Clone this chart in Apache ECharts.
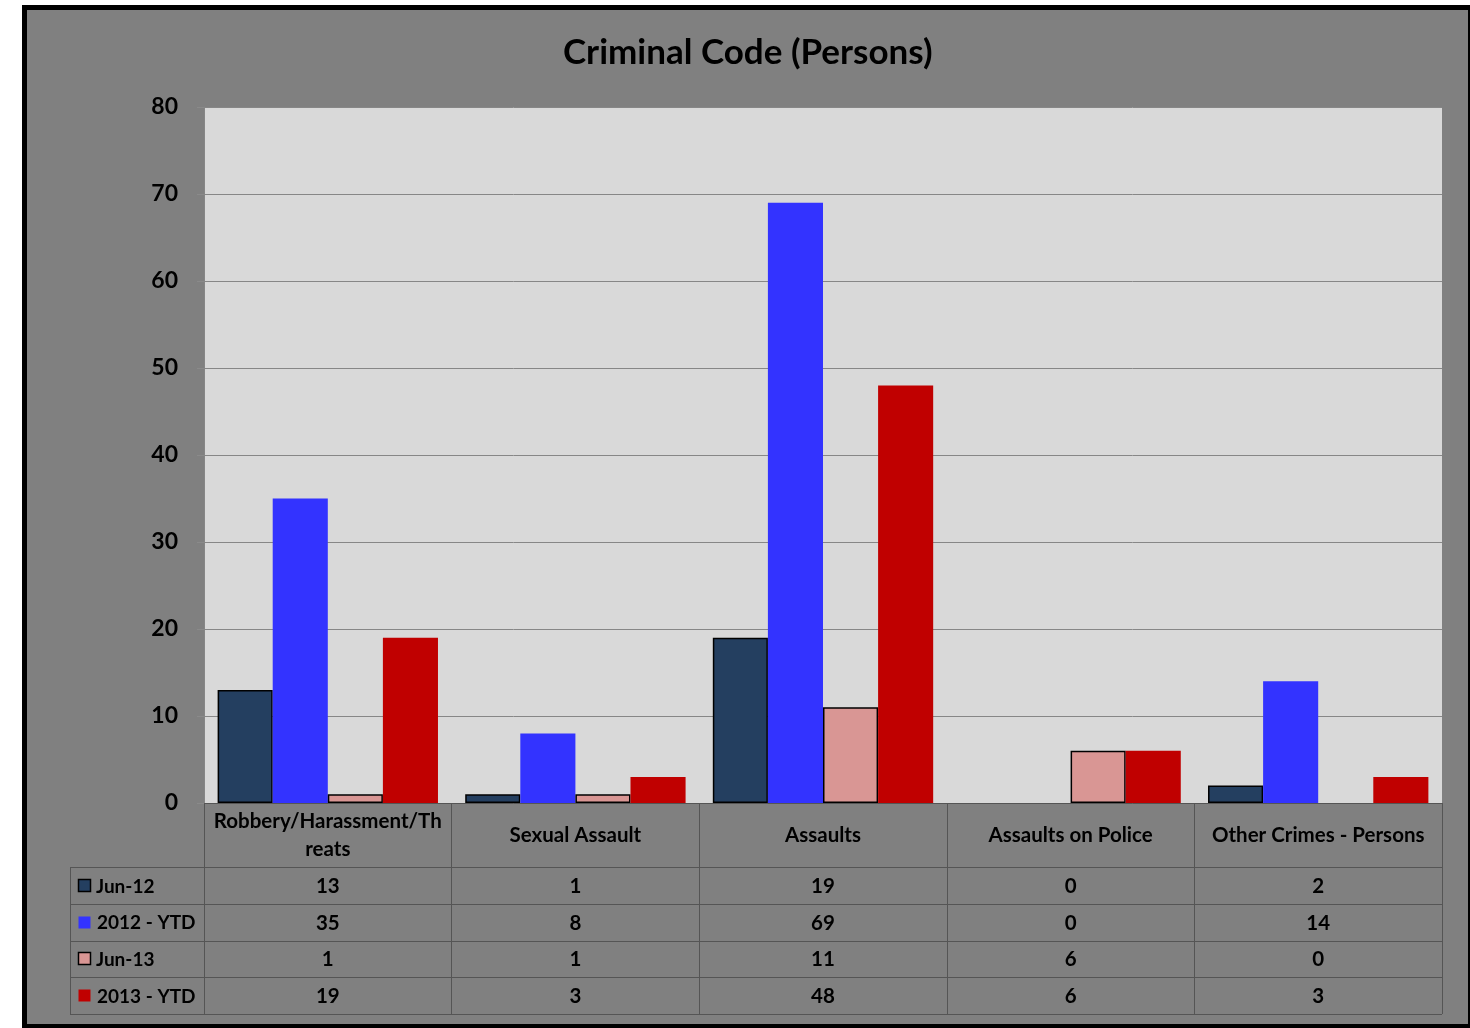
<!DOCTYPE html>
<html>
<head>
<meta charset="utf-8">
<script src="https://cdn.jsdelivr.net/npm/echarts@6/dist/echarts.min.js"></script>
<style>
html,body{margin:0;padding:0;background:#fff;}
#chart{width:1470px;height:1028px;}
</style>
</head>
<body>
<div id="chart"></div>
<script>
const categories = ['Robbery/Harassment/Threats', 'Sexual Assault', 'Assaults', 'Assaults on Police', 'Other Crimes - Persons'];
const seriesNames = ['Jun-12', '2012 - YTD', 'Jun-13', '2013 - YTD'];
const jun12 = [13, 1, 19, 0, 2];
const ytd2012 = [35, 8, 69, 0, 14];
const jun13 = [1, 1, 11, 6, 0];
const ytd2013 = [19, 3, 48, 6, 3];
const yTicks = [0, 10, 20, 30, 40, 50, 60, 70, 80];

const FONT = 'Lato, "Open Sans", sans-serif';
const colors = ['#243F60', '#3333FF', '#D99694', '#C00000'];
const borders = [1.5, 0, 1.5, 0];
const allData = [jun12, ytd2012, jun13, ytd2013];

const chart = echarts.init(document.getElementById('chart'), null, {renderer: 'canvas'});

const gridLeft = 204, gridRight = 1442, gridTop = 107, gridBottom = 803;
const tableLeft = 70, tableBottom = 1014, headerBottom = 867;
const rowH = (tableBottom - headerBottom) / 4;
const lineColor = '#555555';

const series = seriesNames.map((name, i) => ({
  name: name,
  type: 'bar',
  data: allData[i].map(v => v === 0 ? {value: v, itemStyle: {borderWidth: 0}} : v),
  barGap: '0%',
  barCategoryGap: '11%',
  itemStyle: {color: colors[i], borderColor: '#000', borderWidth: borders[i]},
  emphasis: {disabled: true}
}));

const option = {
  backgroundColor: '#ffffff',
  animation: false,
  title: {
    text: 'Criminal Code (Persons)',
    left: 558,
    top: 30,
    textStyle: {fontFamily: FONT, fontWeight: 'bold', fontSize: 35, color: '#000'}
  },
  grid: {
    left: gridLeft, right: 1470 - gridRight, top: gridTop, bottom: 1028 - gridBottom,
    show: true, backgroundColor: '#D9D9D9', borderWidth: 0
  },
  xAxis: {
    type: 'category',
    data: categories,
    axisLine: {show: true, lineStyle: {color: lineColor, width: 1}},
    axisTick: {show: true, length: tableBottom - gridBottom, interval: 0, lineStyle: {color: lineColor, width: 1}},
    axisLabel: {
      interval: 0, fontFamily: FONT, fontWeight: 'bold', fontSize: 20.5, color: '#000',
      width: 232, overflow: 'breakAll', lineHeight: 28, margin: 32, verticalAlign: 'middle'
    }
  },
  yAxis: {
    type: 'value',
    min: 0, max: 80, interval: 10,
    axisLine: {show: true, lineStyle: {color: '#868686'}},
    axisTick: {show: true, length: 7, lineStyle: {color: '#8a8a8a'}},
    splitLine: {show: true, lineStyle: {color: '#878787', width: 1}},
    axisLabel: {
      fontFamily: FONT, fontWeight: 'bold', fontSize: 23, color: '#000', margin: 26,
      formatter: v => yTicks.indexOf(v) >= 0 ? String(v) : ''
    }
  },
  series: series
};

chart.setOption(option);

// Build the data table (with legend keys) from the arrays
const graphics = [];
graphics.push({
  type: 'rect', z: -10, silent: true,
  shape: {x: 24.5, y: 7.5, width: 1446, height: 1019},
  style: {fill: '#808080', stroke: '#000', lineWidth: 5}
});
for (let r = 0; r <= 4; r++) {
  const y = Math.round(headerBottom + r * rowH) + 0.5;
  graphics.push({type: 'line', silent: true, z: 5, shape: {x1: tableLeft, y1: y, x2: gridRight, y2: y}, style: {stroke: lineColor, lineWidth: 1}});
}
graphics.push({type: 'line', silent: true, z: 5, shape: {x1: tableLeft + 0.5, y1: headerBottom, x2: tableLeft + 0.5, y2: tableBottom + 0.5}, style: {stroke: lineColor, lineWidth: 1}});
seriesNames.forEach((name, si) => {
  const cy = headerBottom + (si + 0.5) * rowH;
  graphics.push({
    type: 'rect', silent: true, z: 6,
    shape: {x: 78.5, y: Math.round(cy - 6.5) + 0.5, width: 12, height: 12},
    style: {fill: colors[si], stroke: borders[si] ? '#000' : null, lineWidth: borders[si] ? 1.5 : 0}
  });
  graphics.push({
    type: 'text', silent: true, z: 6,
    x: borders[si] ? 96 : 97, y: cy + 1,
    style: {text: name, fontFamily: FONT, fontWeight: 'bold', fontSize: 19, fill: '#000', align: 'left', verticalAlign: 'middle'}
  });
});
categories.forEach((c, ci) => {
  const x = chart.convertToPixel({xAxisIndex: 0}, c);
  allData.forEach((arr, si) => {
    graphics.push({
      type: 'text', silent: true, z: 6,
      x: x, y: headerBottom + (si + 0.5) * rowH + 1,
      style: {text: String(arr[ci]), fontFamily: FONT, fontWeight: 'bold', fontSize: 20.5, fill: '#000', align: 'center', verticalAlign: 'middle'}
    });
  });
});
chart.setOption({graphic: graphics});
</script>
</body>
</html>
